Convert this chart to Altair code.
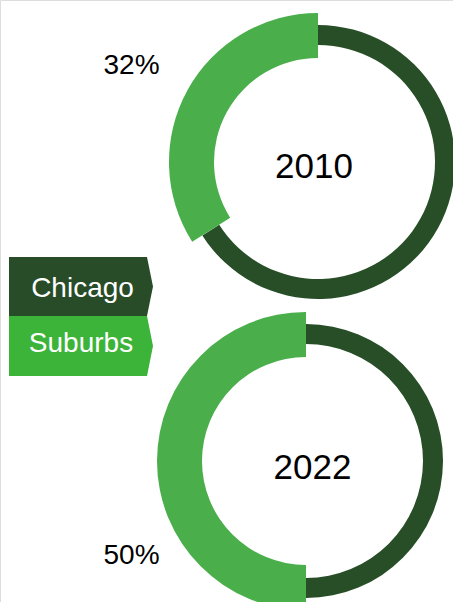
import math
import altair as alt
import pandas as pd

# ---- data ----
years = ["2010", "2022"]
categories = ["Chicago", "Suburbs"]
chicago_share = [66, 50]     # arc sizes as drawn
suburbs_share = [34, 50]
pct_labels = ["32%", "50%"]  # labels as printed

rows = []
for i, y in enumerate(years):
    rows.append({"year": y, "category": "Chicago", "ord": 0, "value": chicago_share[i]})
    rows.append({"year": y, "category": "Suburbs", "ord": 1, "value": suburbs_share[i]})
df = pd.DataFrame(rows)

DARK = "#274e27"
LIGHT = "#4aaf4b"
LEG_DARK = "#284c28"
LEG_LIGHT = "#3cb43a"
FONT = "Liberation Sans"

centers = {"2010": (318, 162), "2022": (306, 461)}
ring = {"Chicago": (137, 117, DARK), "Suburbs": (149, 104, LIGHT)}

theta_scale = alt.Scale(domain=[0, 100], range=[0, 2 * math.pi])

base = alt.Chart(df).transform_stack(
    stack="value", groupby=["year"], as_=["v0", "v1"],
    sort=[alt.SortField("ord", order="ascending")]
)

layers = []
for y in years:
    cx, cy = centers[y]
    for c in categories:
        ro, ri, col = ring[c]
        layers.append(
            base.transform_filter(
                (alt.datum.year == y) & (alt.datum.category == c)
            ).mark_arc(radius=ro, radius2=ri, color=col, stroke=None).encode(
                theta=alt.Theta("v0:Q", scale=theta_scale),
                theta2="v1:Q",
                x=alt.value(cx),
                y=alt.value(cy),
            )
        )

# center year labels
year_df = pd.DataFrame({"year": years})
year_pos = {"2010": (314, 166.5), "2022": (312.5, 467.5)}
for y in years:
    tx, ty = year_pos[y]
    layers.append(
        alt.Chart(year_df).transform_filter(alt.datum.year == y).mark_text(
            font=FONT, fontSize=35, color="black", align="center", baseline="middle"
        ).encode(text="year:N", x=alt.value(tx), y=alt.value(ty))
    )

# percentage labels
pct_df = pd.DataFrame({"year": years, "label": pct_labels})
pct_pos = {"2010": (131.5, 66), "2022": (131.5, 556)}
for y in years:
    px, py = pct_pos[y]
    layers.append(
        alt.Chart(pct_df).transform_filter(alt.datum.year == y).mark_text(
            font=FONT, fontSize=28, color="black", align="center", baseline="middle"
        ).encode(text="label:N", x=alt.value(px), y=alt.value(py))
    )

# legend boxes (chevron-shaped)
leg_df = pd.DataFrame({"category": categories})
leg_spec = {
    "Chicago": (78, 286.5, 29.5, LEG_DARK, 82.5, 289),
    "Suburbs": (78, 346, 30.0, LEG_LIGHT, 81, 344),
}
for c in categories:
    lx, ly, hh, col, tx, ty = leg_spec[c]
    a = 69 / hh
    t = 75 / hh
    path = f"M{-a:.3f},-1L{a:.3f},-1L{t:.3f},0L{a:.3f},1L{-a:.3f},1Z"
    layers.append(
        alt.Chart(leg_df).transform_filter(alt.datum.category == c).mark_point(
            shape=path, filled=True, color=col, opacity=1, size=(2 * hh) ** 2, strokeWidth=0
        ).encode(x=alt.value(lx), y=alt.value(ly))
    )
    layers.append(
        alt.Chart(leg_df).transform_filter(alt.datum.category == c).mark_text(
            font=FONT, fontSize=28, color="white", align="center", baseline="middle"
        ).encode(text="category:N", x=alt.value(tx), y=alt.value(ty))
    )

chart = alt.layer(*layers).properties(
    width=453, height=602, autosize=alt.AutoSizeParams(type="none"), padding=0
).configure_view(stroke=None).configure(background="white")

chart.save("out.html", embed_options={"renderer": "svg", "actions": False})
